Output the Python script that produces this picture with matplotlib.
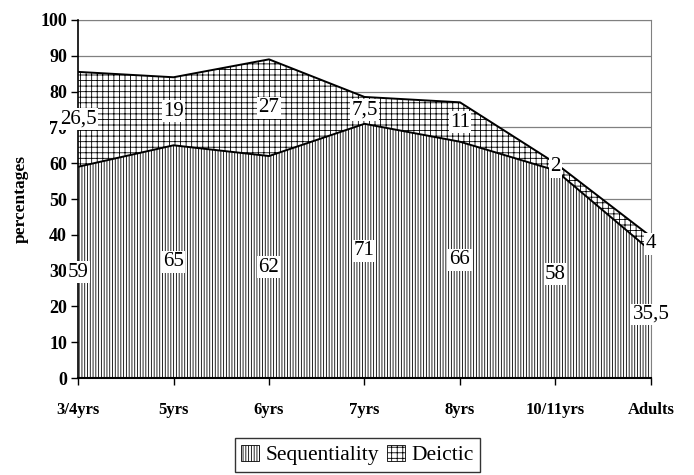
import numpy as np
import matplotlib.pyplot as plt
from matplotlib.patches import Patch

plt.rcParams['font.family'] = ['Liberation Serif', 'DejaVu Serif']
plt.rcParams['hatch.linewidth'] = 0.6

# --- Données ---
ages = ['3/4yrs', '5yrs', '6yrs', '7yrs', '8yrs', '10/11yrs', 'Adults']
sequentiality = [59, 65, 62, 71, 66, 58, 35.5]
deictic = [26.5, 19, 27, 7.5, 11, 2, 4]
seq_labels = ['59', '65', '62', '71', '66', '58', '35,5']
dei_labels = ['26,5', '19', '27', '7,5', '11', '2', '4']

x = np.arange(len(ages))
seq = np.array(sequentiality)
total = seq + np.array(deictic)

fig = plt.figure(figsize=(6.94, 4.75), dpi=100)
ax = fig.add_axes([0.1124, 0.204, 0.8256, 0.754])

# quadrillage horizontal gris derrière les aires
for yv in range(10, 101, 10):
    ax.axhline(yv, color='#808080', lw=0.9, zorder=0)

# aires empilées
ax.fill_between(x, 0, seq, facecolor='white', edgecolor='black',
                hatch='||||||', lw=0, zorder=1)
ax.fill_between(x, seq, total, facecolor='white', edgecolor='black',
                hatch='+++', lw=0, zorder=1)
ax.plot(x, seq, color='black', lw=1.4, zorder=2)
ax.plot(x, total, color='black', lw=1.4, zorder=2)

# étiquettes de valeurs au milieu de chaque couche
box = dict(facecolor='white', edgecolor='none', pad=1)
for i in range(len(x)):
    ax.text(x[i], seq[i] / 2, seq_labels[i], ha='center', va='center',
            fontsize=15, bbox=box, zorder=3)
    ax.text(x[i], seq[i] + deictic[i] / 2, dei_labels[i], ha='center',
            va='center', fontsize=15, bbox=box, zorder=3)

ax.set_xlim(0, len(x) - 1)
ax.set_ylim(0, 100)
ax.set_yticks(range(0, 101, 10))
ax.set_xticks(x)
ax.set_xticklabels(ages)
ax.tick_params(axis='both', direction='out', length=5, width=1)
ax.tick_params(axis='y', labelsize=13, pad=3)
ax.tick_params(axis='x', labelsize=12, pad=12)
for lab in ax.get_xticklabels() + ax.get_yticklabels():
    lab.set_fontweight('bold')

ax.spines['left'].set_color('black')
ax.spines['bottom'].set_color('black')
ax.spines['left'].set_linewidth(1.2)
ax.spines['bottom'].set_linewidth(1.5)
ax.spines['top'].set_color('#808080')
ax.spines['right'].set_color('#808080')
ax.spines['top'].set_zorder(0)

ax.set_ylabel('percentages', fontsize=12.5, fontweight='bold', labelpad=8)

handles = [Patch(facecolor='white', edgecolor='black', hatch='||||||', lw=0.6),
           Patch(facecolor='white', edgecolor='black', hatch='+++', lw=0.6)]
fig.legend(handles, ['Sequentiality', 'Deictic'], loc='center',
           bbox_to_anchor=(0.515, 0.042), ncol=2, fontsize=15.5, frameon=True,
           fancybox=False, edgecolor='black', handlelength=0.8,
           handleheight=0.8, handletextpad=0.3, columnspacing=0.4,
           borderpad=0.3)

plt.savefig('out.png', dpi=100)
